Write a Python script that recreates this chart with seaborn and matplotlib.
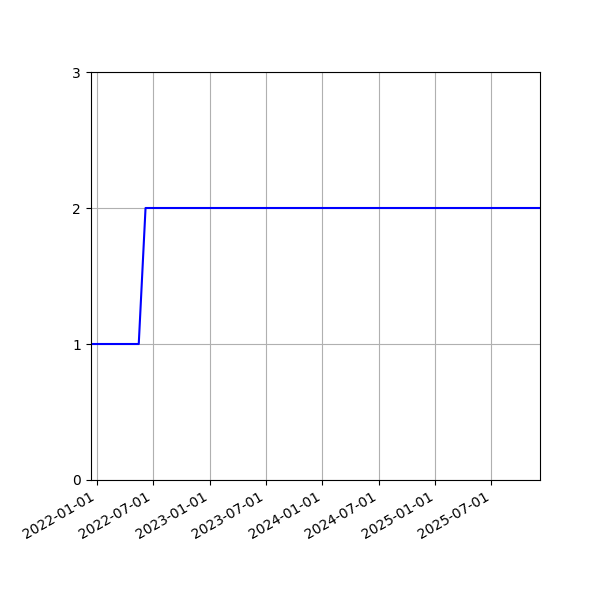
import matplotlib
matplotlib.use("Agg")
import matplotlib.pyplot as plt
import matplotlib.dates as mdates
import pandas as pd
import seaborn as sns

# values
dates = ["2021-12-11", "2022-05-16", "2022-06-07", "2025-12-06"]
values = [1, 1, 2, 2]
tick_dates = ["2022-01-01", "2022-07-01", "2023-01-01", "2023-07-01",
              "2024-01-01", "2024-07-01", "2025-01-01", "2025-07-01"]
y_ticks = [0, 1, 2, 3]

df = pd.DataFrame({"date": pd.to_datetime(dates), "value": values})

fig, ax = plt.subplots(figsize=(6, 6), dpi=100)
sns.lineplot(data=df, x="date", y="value", color="blue", linewidth=1.5, ax=ax)

ax.set_xlim(df["date"].min(), df["date"].max())
ax.set_ylim(0, 3)
ax.set_yticks(y_ticks)
ax.set_xticks(pd.to_datetime(tick_dates))
ax.xaxis.set_major_formatter(mdates.DateFormatter("%Y-%m-%d"))
ax.set_xlabel("")
ax.set_ylabel("")
ax.grid(True, color="#b0b0b0", linewidth=0.8)

fig.autofmt_xdate()
fig.subplots_adjust(left=0.151, right=0.9, top=0.88, bottom=0.2)
fig.savefig("out.png", dpi=100)
